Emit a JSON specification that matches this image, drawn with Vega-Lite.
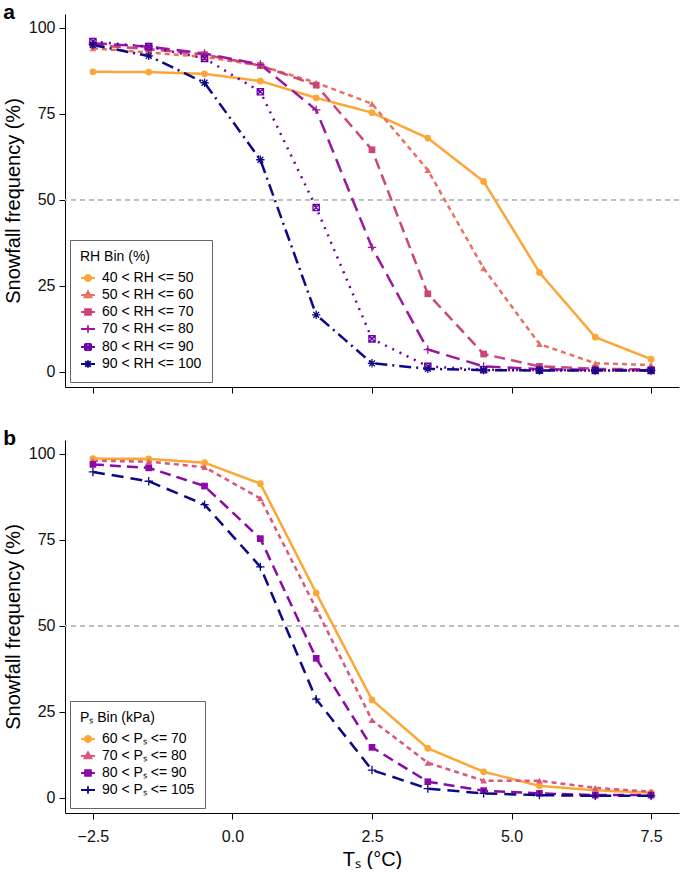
{
  "$schema": "https://vega.github.io/schema/vega-lite/v6.json",
  "padding": {"left": 3, "right": 0, "top": 2, "bottom": 0},
  "background": "white",
  "spacing": 34,
  "resolve": {"scale": {"color": "independent", "shape": "independent", "strokeDash": "independent", "x": "independent", "y": "independent"}, "legend": {"color": "independent", "shape": "independent", "strokeDash": "independent"}},
  "datasets": {
    "rh": [
      {"T": -2.5, "f": 87.2, "bin": "40 < RH <= 50"}, {"T": -1.5, "f": 87.1, "bin": "40 < RH <= 50"}, {"T": -0.5, "f": 86.6, "bin": "40 < RH <= 50"}, {"T": 0.5, "f": 84.5, "bin": "40 < RH <= 50"}, {"T": 1.5, "f": 79.6, "bin": "40 < RH <= 50"}, {"T": 2.5, "f": 75.3, "bin": "40 < RH <= 50"}, {"T": 3.5, "f": 67.9, "bin": "40 < RH <= 50"}, {"T": 4.5, "f": 55.3, "bin": "40 < RH <= 50"}, {"T": 5.5, "f": 28.8, "bin": "40 < RH <= 50"}, {"T": 6.5, "f": 10.0, "bin": "40 < RH <= 50"}, {"T": 7.5, "f": 3.6, "bin": "40 < RH <= 50"},
      {"T": -2.5, "f": 94.0, "bin": "50 < RH <= 60"}, {"T": -1.5, "f": 92.8, "bin": "50 < RH <= 60"}, {"T": -0.5, "f": 91.5, "bin": "50 < RH <= 60"}, {"T": 0.5, "f": 89.0, "bin": "50 < RH <= 60"}, {"T": 1.5, "f": 84.0, "bin": "50 < RH <= 60"}, {"T": 2.5, "f": 77.9, "bin": "50 < RH <= 60"}, {"T": 3.5, "f": 58.6, "bin": "50 < RH <= 60"}, {"T": 4.5, "f": 30.0, "bin": "50 < RH <= 60"}, {"T": 5.5, "f": 8.0, "bin": "50 < RH <= 60"}, {"T": 6.5, "f": 2.4, "bin": "50 < RH <= 60"}, {"T": 7.5, "f": 1.9, "bin": "50 < RH <= 60"},
      {"T": -2.5, "f": 95.0, "bin": "60 < RH <= 70"}, {"T": -1.5, "f": 93.8, "bin": "60 < RH <= 70"}, {"T": -0.5, "f": 92.2, "bin": "60 < RH <= 70"}, {"T": 0.5, "f": 89.0, "bin": "60 < RH <= 70"}, {"T": 1.5, "f": 83.3, "bin": "60 < RH <= 70"}, {"T": 2.5, "f": 64.5, "bin": "60 < RH <= 70"}, {"T": 3.5, "f": 22.6, "bin": "60 < RH <= 70"}, {"T": 4.5, "f": 5.1, "bin": "60 < RH <= 70"}, {"T": 5.5, "f": 1.5, "bin": "60 < RH <= 70"}, {"T": 6.5, "f": 0.8, "bin": "60 < RH <= 70"}, {"T": 7.5, "f": 0.6, "bin": "60 < RH <= 70"},
      {"T": -2.5, "f": 95.5, "bin": "70 < RH <= 80"}, {"T": -1.5, "f": 94.5, "bin": "70 < RH <= 80"}, {"T": -0.5, "f": 92.5, "bin": "70 < RH <= 80"}, {"T": 0.5, "f": 89.3, "bin": "70 < RH <= 80"}, {"T": 1.5, "f": 76.1, "bin": "70 < RH <= 80"}, {"T": 2.5, "f": 36.1, "bin": "70 < RH <= 80"}, {"T": 3.5, "f": 6.4, "bin": "70 < RH <= 80"}, {"T": 4.5, "f": 1.5, "bin": "70 < RH <= 80"}, {"T": 5.5, "f": 0.7, "bin": "70 < RH <= 80"}, {"T": 6.5, "f": 0.5, "bin": "70 < RH <= 80"}, {"T": 7.5, "f": 0.4, "bin": "70 < RH <= 80"},
      {"T": -2.5, "f": 96.0, "bin": "80 < RH <= 90"}, {"T": -1.5, "f": 94.5, "bin": "80 < RH <= 90"}, {"T": -0.5, "f": 91.1, "bin": "80 < RH <= 90"}, {"T": 0.5, "f": 81.4, "bin": "80 < RH <= 90"}, {"T": 1.5, "f": 47.7, "bin": "80 < RH <= 90"}, {"T": 2.5, "f": 9.5, "bin": "80 < RH <= 90"}, {"T": 3.5, "f": 1.5, "bin": "80 < RH <= 90"}, {"T": 4.5, "f": 0.5, "bin": "80 < RH <= 90"}, {"T": 5.5, "f": 0.4, "bin": "80 < RH <= 90"}, {"T": 6.5, "f": 0.3, "bin": "80 < RH <= 90"}, {"T": 7.5, "f": 0.3, "bin": "80 < RH <= 90"},
      {"T": -2.5, "f": 95.0, "bin": "90 < RH <= 100"}, {"T": -1.5, "f": 91.8, "bin": "90 < RH <= 100"}, {"T": -0.5, "f": 84.0, "bin": "90 < RH <= 100"}, {"T": 0.5, "f": 61.6, "bin": "90 < RH <= 100"}, {"T": 1.5, "f": 16.5, "bin": "90 < RH <= 100"}, {"T": 2.5, "f": 2.4, "bin": "90 < RH <= 100"}, {"T": 3.5, "f": 0.8, "bin": "90 < RH <= 100"}, {"T": 4.5, "f": 0.4, "bin": "90 < RH <= 100"}, {"T": 5.5, "f": 0.3, "bin": "90 < RH <= 100"}, {"T": 6.5, "f": 0.3, "bin": "90 < RH <= 100"}, {"T": 7.5, "f": 0.3, "bin": "90 < RH <= 100"}
    ],
    "ps": [
      {"T": -2.5, "f": 98.6, "bin": "60 < Pₛ <= 70"}, {"T": -1.5, "f": 98.5, "bin": "60 < Pₛ <= 70"}, {"T": -0.5, "f": 97.4, "bin": "60 < Pₛ <= 70"}, {"T": 0.5, "f": 91.3, "bin": "60 < Pₛ <= 70"}, {"T": 1.5, "f": 59.5, "bin": "60 < Pₛ <= 70"}, {"T": 2.5, "f": 28.4, "bin": "60 < Pₛ <= 70"}, {"T": 3.5, "f": 14.3, "bin": "60 < Pₛ <= 70"}, {"T": 4.5, "f": 7.5, "bin": "60 < Pₛ <= 70"}, {"T": 5.5, "f": 3.4, "bin": "60 < Pₛ <= 70"}, {"T": 6.5, "f": 2.1, "bin": "60 < Pₛ <= 70"}, {"T": 7.5, "f": 1.4, "bin": "60 < Pₛ <= 70"},
      {"T": -2.5, "f": 98.0, "bin": "70 < Pₛ <= 80"}, {"T": -1.5, "f": 97.7, "bin": "70 < Pₛ <= 80"}, {"T": -0.5, "f": 96.1, "bin": "70 < Pₛ <= 80"}, {"T": 0.5, "f": 87.0, "bin": "70 < Pₛ <= 80"}, {"T": 1.5, "f": 54.9, "bin": "70 < Pₛ <= 80"}, {"T": 2.5, "f": 22.5, "bin": "70 < Pₛ <= 80"}, {"T": 3.5, "f": 10.1, "bin": "70 < Pₛ <= 80"}, {"T": 4.5, "f": 4.9, "bin": "70 < Pₛ <= 80"}, {"T": 5.5, "f": 4.9, "bin": "70 < Pₛ <= 80"}, {"T": 6.5, "f": 2.8, "bin": "70 < Pₛ <= 80"}, {"T": 7.5, "f": 1.7, "bin": "70 < Pₛ <= 80"},
      {"T": -2.5, "f": 96.9, "bin": "80 < Pₛ <= 90"}, {"T": -1.5, "f": 95.9, "bin": "80 < Pₛ <= 90"}, {"T": -0.5, "f": 90.6, "bin": "80 < Pₛ <= 90"}, {"T": 0.5, "f": 75.3, "bin": "80 < Pₛ <= 90"}, {"T": 1.5, "f": 40.5, "bin": "80 < Pₛ <= 90"}, {"T": 2.5, "f": 14.6, "bin": "80 < Pₛ <= 90"}, {"T": 3.5, "f": 4.6, "bin": "80 < Pₛ <= 90"}, {"T": 4.5, "f": 2.0, "bin": "80 < Pₛ <= 90"}, {"T": 5.5, "f": 1.2, "bin": "80 < Pₛ <= 90"}, {"T": 6.5, "f": 0.7, "bin": "80 < Pₛ <= 90"}, {"T": 7.5, "f": 0.7, "bin": "80 < Pₛ <= 90"},
      {"T": -2.5, "f": 94.7, "bin": "90 < Pₛ <= 105"}, {"T": -1.5, "f": 92.0, "bin": "90 < Pₛ <= 105"}, {"T": -0.5, "f": 85.2, "bin": "90 < Pₛ <= 105"}, {"T": 0.5, "f": 67.1, "bin": "90 < Pₛ <= 105"}, {"T": 1.5, "f": 28.6, "bin": "90 < Pₛ <= 105"}, {"T": 2.5, "f": 8.0, "bin": "90 < Pₛ <= 105"}, {"T": 3.5, "f": 2.6, "bin": "90 < Pₛ <= 105"}, {"T": 4.5, "f": 1.2, "bin": "90 < Pₛ <= 105"}, {"T": 5.5, "f": 0.7, "bin": "90 < Pₛ <= 105"}, {"T": 6.5, "f": 0.5, "bin": "90 < Pₛ <= 105"}, {"T": 7.5, "f": 0.5, "bin": "90 < Pₛ <= 105"}
    ]
  },
  "vconcat": [
    {
      "width": 614,
      "height": 373,
      "title": {"text": "a", "anchor": "start", "frame": "bounds", "fontSize": 21, "fontWeight": "bold", "font": "Liberation Sans", "color": "black", "offset": -9},
      "data": {"name": "rh"},
      "layer": [
        {
          "mark": {"type": "rule", "color": "#BDBDBD", "strokeWidth": 1, "strokeDash": [5, 4]},
          "encoding": {"y": {"datum": 50}}
        },
        {
          "mark": {"type": "line", "strokeWidth": 2.5},
          "encoding": {
            "x": {"field": "T", "type": "quantitative", "scale": {"domain": [-3, 8], "nice": false, "zero": false}, "axis": {"values": [-2.5, 0, 2.5, 5, 7.5], "labels": false, "title": null}},
            "y": {"field": "f", "type": "quantitative", "scale": {"domain": [-4.5, 104], "nice": false, "zero": false}, "axis": {"values": [0, 25, 50, 75, 100], "title": "Snowfall frequency (%)"}},
            "color": {
              "field": "bin", "type": "nominal",
              "scale": {"domain": ["40 < RH <= 50", "50 < RH <= 60", "60 < RH <= 70", "70 < RH <= 80", "80 < RH <= 90", "90 < RH <= 100"], "range": ["#FCA636", "#E8705C", "#CA457A", "#9C179E", "#6A00A8", "#0D0887"]},
              "legend": {
                "title": "RH Bin (%)",
                "encode": {"symbols": {"update": {
                  "shape": {"signal": "datum.value === '40 < RH <= 50' ? 'M-1,0H1M0.45,0A0.45,0.45,0,1,1,-0.45,0A0.45,0.45,0,1,1,0.45,0Z' : datum.value === '50 < RH <= 60' ? 'M-1,0H1M0,-0.55L0.5,0.33L-0.5,0.33Z' : datum.value === '60 < RH <= 70' ? 'M-1,0H1M-0.42,-0.42H0.42V0.42H-0.42Z' : datum.value === '70 < RH <= 80' ? 'M-1,0H1M0,-0.55V0.55' : datum.value === '80 < RH <= 90' ? 'M-1,0H1M-0.45,-0.45H0.45M0.45,-0.45V0.45M0.45,0.45H-0.45M-0.45,0.45V-0.45M-0.45,-0.45L0.45,0.45M-0.45,0.45L0.45,-0.45' : 'M-1,0H1M0,-0.55V0.55M-0.4,-0.4L0.4,0.4M-0.4,0.4L0.4,-0.4'"},
                  "fill": {"signal": "datum.value === '40 < RH <= 50' ? '#FCA636' : datum.value === '50 < RH <= 60' ? '#E8705C' : datum.value === '60 < RH <= 70' ? '#CA457A' : 'transparent'"},
                  "stroke": {"signal": "datum.value === '40 < RH <= 50' ? '#FCA636' : datum.value === '50 < RH <= 60' ? '#E8705C' : datum.value === '60 < RH <= 70' ? '#CA457A' : datum.value === '70 < RH <= 80' ? '#9C179E' : datum.value === '80 < RH <= 90' ? '#6A00A8' : '#0D0887'"},
                  "strokeWidth": {"value": 1.8},
                  "strokeDash": {"value": []},
                  "size": {"value": 196},
                  "opacity": {"value": 1}
                }}}
              }
            },
            "strokeDash": {
              "field": "bin", "type": "nominal",
              "scale": {"range": [[1, 0], [5, 4], [11, 6], [14, 7], [2, 6], [12, 5, 2, 5]]},
              "legend": null
            }
          }
        },
        {
          "transform": [{"filter": {"field": "bin", "oneOf": ["40 < RH <= 50", "50 < RH <= 60", "60 < RH <= 70"]}}],
          "mark": {"type": "point", "filled": true, "opacity": 1, "size": 45},
          "encoding": {
            "x": {"field": "T", "type": "quantitative"},
            "y": {"field": "f", "type": "quantitative"},
            "color": {"field": "bin", "type": "nominal"},
            "shape": {"field": "bin", "type": "nominal", "scale": {"range": ["circle", "triangle-up", "square", "M-1,0H1M0,-1V1", "M-0.75,-0.75H0.75V0.75H-0.75ZM-0.75,-0.75L0.75,0.75M-0.75,0.75L0.75,-0.75", "M-1,0H1M0,-1V1M-0.7,-0.7L0.7,0.7M-0.7,0.7L0.7,-0.7"]}, "legend": null}
          }
        },
        {
          "transform": [{"filter": {"field": "bin", "oneOf": ["70 < RH <= 80", "80 < RH <= 90", "90 < RH <= 100"]}}],
          "mark": {"type": "point", "filled": false, "opacity": 1, "size": 70, "strokeWidth": 1.3},
          "encoding": {
            "x": {"field": "T", "type": "quantitative"},
            "y": {"field": "f", "type": "quantitative"},
            "color": {"field": "bin", "type": "nominal"},
            "shape": {"field": "bin", "type": "nominal", "legend": null}
          }
        }
      ]
    },
    {
      "width": 614,
      "height": 373,
      "title": {"text": "b", "anchor": "start", "frame": "bounds", "fontSize": 21, "fontWeight": "bold", "font": "Liberation Sans", "color": "black", "offset": -9},
      "data": {"name": "ps"},
      "layer": [
        {
          "mark": {"type": "rule", "color": "#BDBDBD", "strokeWidth": 1, "strokeDash": [5, 4]},
          "encoding": {"y": {"datum": 50}}
        },
        {
          "mark": {"type": "line", "strokeWidth": 2.5},
          "encoding": {
            "x": {"field": "T", "type": "quantitative", "scale": {"domain": [-3, 8], "nice": false, "zero": false}, "axis": {"values": [-2.5, 0, 2.5, 5, 7.5], "format": ".1f", "title": "Tₛ (°C)"}},
            "y": {"field": "f", "type": "quantitative", "scale": {"domain": [-4.5, 104], "nice": false, "zero": false}, "axis": {"values": [0, 25, 50, 75, 100], "title": "Snowfall frequency (%)"}},
            "color": {
              "field": "bin", "type": "nominal",
              "scale": {"domain": ["60 < Pₛ <= 70", "70 < Pₛ <= 80", "80 < Pₛ <= 90", "90 < Pₛ <= 105"], "range": ["#FCA636", "#D8577A", "#8B0AA5", "#0D0887"]},
              "legend": {
                "title": "Pₛ Bin (kPa)",
                "encode": {"symbols": {"update": {
                  "shape": {"signal": "datum.value === '60 < Pₛ <= 70' ? 'M-1,0H1M0.45,0A0.45,0.45,0,1,1,-0.45,0A0.45,0.45,0,1,1,0.45,0Z' : datum.value === '70 < Pₛ <= 80' ? 'M-1,0H1M0,-0.55L0.5,0.33L-0.5,0.33Z' : datum.value === '80 < Pₛ <= 90' ? 'M-1,0H1M-0.42,-0.42H0.42V0.42H-0.42Z' : 'M-1,0H1M0,-0.55V0.55'"},
                  "fill": {"signal": "datum.value === '60 < Pₛ <= 70' ? '#FCA636' : datum.value === '70 < Pₛ <= 80' ? '#D8577A' : datum.value === '80 < Pₛ <= 90' ? '#8B0AA5' : 'transparent'"},
                  "stroke": {"signal": "datum.value === '60 < Pₛ <= 70' ? '#FCA636' : datum.value === '70 < Pₛ <= 80' ? '#D8577A' : datum.value === '80 < Pₛ <= 90' ? '#8B0AA5' : '#0D0887'"},
                  "strokeWidth": {"value": 1.8},
                  "strokeDash": {"value": []},
                  "size": {"value": 196},
                  "opacity": {"value": 1}
                }}}
              }
            },
            "strokeDash": {
              "field": "bin", "type": "nominal",
              "scale": {"range": [[1, 0], [5, 4], [11, 6], [12, 7]]},
              "legend": null
            }
          }
        },
        {
          "transform": [{"filter": {"field": "bin", "oneOf": ["60 < Pₛ <= 70", "70 < Pₛ <= 80", "80 < Pₛ <= 90"]}}],
          "mark": {"type": "point", "filled": true, "opacity": 1, "size": 45},
          "encoding": {
            "x": {"field": "T", "type": "quantitative"},
            "y": {"field": "f", "type": "quantitative"},
            "color": {"field": "bin", "type": "nominal"},
            "shape": {"field": "bin", "type": "nominal", "scale": {"range": ["circle", "triangle-up", "square", "M-1,0H1M0,-1V1"]}, "legend": null}
          }
        },
        {
          "transform": [{"filter": {"field": "bin", "oneOf": ["90 < Pₛ <= 105"]}}],
          "mark": {"type": "point", "filled": false, "opacity": 1, "size": 70, "strokeWidth": 1.3},
          "encoding": {
            "x": {"field": "T", "type": "quantitative"},
            "y": {"field": "f", "type": "quantitative"},
            "color": {"field": "bin", "type": "nominal"},
            "shape": {"field": "bin", "type": "nominal", "legend": null}
          }
        }
      ]
    }
  ],
  "config": {
    "font": "Liberation Sans",
    "view": {"stroke": null},
    "axis": {
      "grid": false,
      "domainColor": "black",
      "domainWidth": 1,
      "tickColor": "black",
      "tickWidth": 1,
      "tickSize": 6,
      "labelFont": "Liberation Sans",
      "labelFontSize": 16,
      "labelColor": "#111111",
      "labelPadding": 4,
      "titleFont": "Liberation Sans",
      "titleFontSize": 20,
      "titleFontWeight": "normal",
      "titleColor": "black",
      "titlePadding": 5
    },
    "axisX": {"labelPadding": 9, "titlePadding": 5},
    "legend": {
      "orient": "bottom-left",
      "offset": 5,
      "padding": 10,
      "strokeColor": "#666666",
      "fillColor": "white",
      "cornerRadius": 0,
      "titleFont": "Liberation Sans",
      "titleFontSize": 14,
      "titleFontWeight": "normal",
      "titleColor": "black",
      "titlePadding": 6,
      "labelFont": "Liberation Sans",
      "labelFontSize": 14,
      "labelColor": "black",
      "labelOffset": 6,
      "symbolSize": 196,
      "symbolStrokeWidth": 1.8,
      "rowPadding": 2
    }
  }
}
